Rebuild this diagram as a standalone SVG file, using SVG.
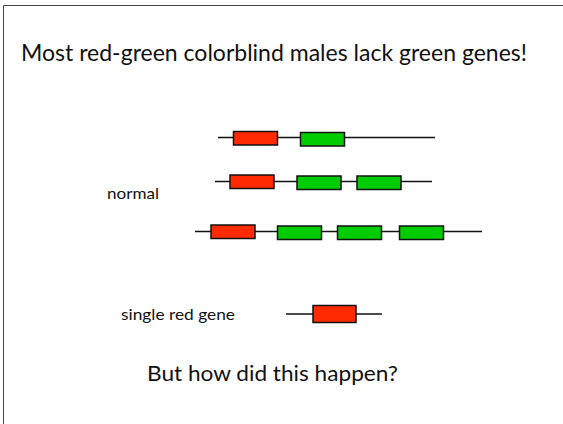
<svg xmlns="http://www.w3.org/2000/svg" width="563" height="424" viewBox="0 0 563 424">
<style>
.t{font-family:"Lato","Open Sans","Liberation Sans",sans-serif;fill:#111}
.red{fill:#ff2a00;stroke:#111;stroke-width:1.5}
.grn{fill:#00cc00;stroke:#111;stroke-width:1.5}
.ln{stroke:#111;stroke-width:1.5;fill:none}
</style>
<rect width="563" height="424" fill="#fff"/>
<path d="M3.5,424 V5.5 H563" fill="none" stroke="#444" stroke-width="1"/>
<g id="title"><text class="t" x="21" y="61" font-size="24" textLength="506" lengthAdjust="spacingAndGlyphs">Most red-green colorblind males lack green genes!</text></g>
<g id="connectors">
<line class="ln" x1="218" y1="137.5" x2="435" y2="137.5"/>
<line class="ln" x1="215" y1="181.5" x2="432" y2="181.5"/>
<line class="ln" x1="195" y1="231.5" x2="482" y2="231.5"/>
<line class="ln" x1="286" y1="314" x2="382" y2="314"/>
</g>
<g id="row1">
<rect class="red" x="233.5" y="131.5" width="44" height="13.5"/>
<rect class="grn" x="300.5" y="132.5" width="44" height="13.5"/>
</g>
<g id="row2">
<rect class="red" x="230" y="175" width="44" height="13.5"/>
<rect class="grn" x="297" y="176" width="44" height="13.5"/>
<rect class="grn" x="357" y="176" width="44" height="13.5"/>
</g>
<g id="row3">
<rect class="red" x="211" y="225" width="44" height="13.5"/>
<rect class="grn" x="277.5" y="226" width="44" height="13.5"/>
<rect class="grn" x="337.5" y="226" width="44" height="13.5"/>
<rect class="grn" x="399.5" y="226" width="44" height="13.5"/>
</g>
<g id="normal"><text class="t" x="107" y="199" font-size="15" textLength="52" lengthAdjust="spacingAndGlyphs">normal</text></g>
<g id="single"><text class="t" x="121" y="320" font-size="15" textLength="114" lengthAdjust="spacingAndGlyphs">single red gene</text></g>
<g id="single-gene"><rect class="red" x="313" y="305.5" width="43" height="17"/></g>
<g id="question"><text class="t" x="147" y="381" font-size="22" textLength="251" lengthAdjust="spacingAndGlyphs">But how did this happen?</text></g>
</svg>
